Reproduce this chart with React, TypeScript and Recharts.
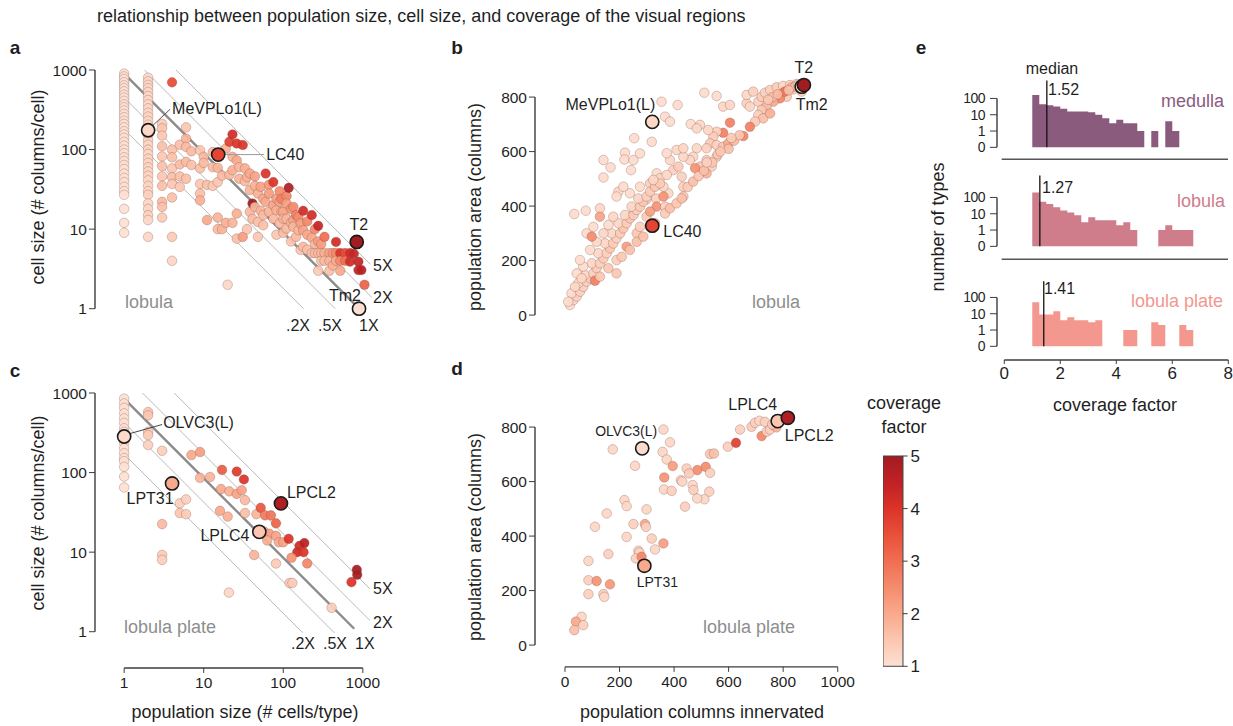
import React from 'react';
import {
  ScatterChart, Scatter, XAxis, YAxis, ReferenceLine,
  AreaChart, Area, BarChart, Bar,
} from 'recharts';

const FONT = "'Liberation Sans', Arial, Helvetica, sans-serif";
const INK = '#1f1f1f';
const AXIS_INK = '#3c3c3c';
const REGION_INK = '#8e8e8e';

// ---------- coverage factor colour scale (1 -> 5) ----------
const coverageStops: [number, string][] = [
  [1, '#fde0d3'], [1.5, '#fcc6b0'], [2, '#f9a98c'], [2.5, '#f58c6e'], [3, '#f06e52'],
  [3.5, '#e9503a'], [4, '#dc3328'], [4.5, '#c02125'], [5, '#a21c21'],
];

function hexRgb(h: string) {
  const n = parseInt(h.slice(1), 16);
  return [(n >> 16) & 255, (n >> 8) & 255, n & 255];
}

function coverageColor(c: number) {
  const v = Math.max(1, Math.min(5, c));
  for (let i = 0; i < coverageStops.length - 1; i++) {
    const [a, ca] = coverageStops[i];
    const [b, cb] = coverageStops[i + 1];
    if (v <= b) {
      const t = (v - a) / (b - a);
      const A = hexRgb(ca);
      const B = hexRgb(cb);
      return `rgb(${A.map((q, k) => Math.round(q + (B[k] - q) * t)).join(',')})`;
    }
  }
  return coverageStops[coverageStops.length - 1][1];
}

// ---------- lobula: population size vs cell size  [cells/type, columns/cell, coverage] ----------
const lobulaCellSize: [number, number, number][] = [
  [1, 900, 1], [1, 830, 1], [1, 770, 1], [1, 700, 1], [1, 640, 1], [1, 590, 1], [1, 540, 1], [1, 490, 1],
  [1, 450, 1], [1, 410, 1], [1, 370, 1], [1, 340, 1], [1, 310, 1], [1, 280, 1], [1, 255, 1], [1, 230, 1],
  [1, 210, 1], [1, 190, 1], [1, 170, 1], [1, 155, 1], [1, 140, 1], [1, 125, 1], [1, 112, 1], [1, 100, 1],
  [1, 90, 1], [1, 80, 1], [1, 72, 1], [1, 64, 1], [1, 57, 1], [1, 50, 1], [1, 44, 1], [1, 39, 1],
  [1, 34, 1], [1, 30, 1], [1, 27, 1], [1, 18, 1], [1, 12, 1], [1, 9, 1],
  [2, 800, 1.15], [2, 720, 1.15], [2, 650, 1.2], [2, 590, 1.15], [2, 530, 1.2], [2, 470, 1.15], [2, 420, 1.2],
  [2, 370, 1.15], [2, 330, 1.2], [2, 290, 1.15], [2, 260, 1.2], [2, 230, 1.2], [2, 205, 1.15], [2, 150, 1.2],
  [2, 130, 1.25], [2, 115, 1.2], [2, 100, 1.25], [2, 88, 1.2], [2, 77, 1.25], [2, 68, 1.2], [2, 60, 1.25],
  [2, 53, 1.2], [2, 47, 1.25], [2, 41, 1.2], [2, 35, 1.25], [2, 30, 1.2], [2, 27, 1.3], [2, 21, 1.2],
  [2, 18, 1.25], [2, 15, 1.3], [2, 13, 1.2], [2, 8, 1.2],
  [3, 210, 1.4], [3, 185, 1.5], [3, 150, 1.5], [3, 110, 1.6], [3, 82, 1.5], [3, 62, 1.6], [3, 46, 1.5],
  [3, 35, 1.6], [3, 22, 1.7], [3, 19, 1.6], [3, 14, 1.4],
  [4, 700, 3.6], [4, 100, 1.6], [4, 80, 1.6], [4, 58, 1.5], [4, 45, 1.6], [4, 37, 1.5], [4, 25, 1.6], [4, 8, 1.4], [4, 4, 1.2],
  [5, 115, 1.6], [5, 65, 1.7], [5, 46, 1.6], [5, 34, 1.5],
  [6, 190, 1.5], [6, 137, 1.8], [6, 108, 1.7], [6, 70, 1.7], [6, 43, 1.6],
  [7, 95, 1.7], [7, 64, 1.6],
  [9, 98, 1.5], [9, 58, 1.6], [9, 37, 1.5], [9, 28, 1.6], [9, 23, 1.9],
  [10, 81, 1.7], [10, 68, 1.7], [11, 36, 1.6], [11, 13, 2.0],
  [13, 93, 1.6], [13, 60, 1.7], [13, 35, 1.5],
  [15, 59, 1.8], [15, 39, 1.5], [15, 14, 1.8], [15, 10, 1.7],
  [17, 47, 1.7], [17, 10, 1.8], [19, 103, 1.9], [19, 12, 1.9], [20, 2, 1.2],
  [21, 125, 3.8], [21, 48, 1.7],
  [23, 155, 4.2], [23, 81, 1.8], [23, 55, 1.9], [23, 12, 1.8],
  [26, 119, 4.0], [26, 73, 2.0], [26, 15.7, 1.9], [26, 7.6, 1.6],
  [28, 60, 1.8], [28, 43, 1.8], [31, 114, 4.0], [31, 8, 2.2],
  [33, 58, 1.9], [33, 40, 1.7], [35, 45, 1.9], [35, 10, 1.5],
  [38, 50, 2.0], [38, 31, 1.8], [38, 16.5, 1.7],
  [41, 21, 5.0], [41, 13.5, 1.7],
  [44, 46, 2.1], [44, 35, 1.9], [44, 19, 1.8],
  [48, 28, 1.9], [48, 12.3, 1.6], [48, 8, 1.5],
  [52, 34, 2.1], [52, 17, 1.8], [56, 24, 2.0], [56, 15, 1.7], [56, 11.2, 1.6],
  [60, 50, 4.0], [60, 22, 2.0], [66, 36, 2.3], [66, 28, 2.2], [66, 16.5, 1.8],
  [75, 39, 4.0], [75, 20, 2.1], [75, 13.5, 1.7],
  [82, 24, 2.2], [82, 17.3, 1.9], [82, 8.5, 1.5],
  [90, 30, 2.5], [90, 22, 2.1], [90, 11.8, 1.7], [95, 24, 2.7], [95, 16.5, 2.0],
  [100, 16.5, 2.0], [100, 13.5, 1.9], [100, 9, 1.6],
  [110, 26, 2.6], [110, 21, 2.2], [110, 13.5, 1.8], [110, 10.2, 1.7],
  [117, 33, 4.8], [125, 18, 2.4], [125, 12, 1.9], [125, 7, 1.5],
  [134, 19, 2.5], [134, 13, 2.1], [134, 10.7, 1.8], [145, 15, 2.7], [145, 8, 1.7],
  [155, 14.2, 2.5], [155, 9.7, 1.8], [165, 11.8, 2.2], [165, 5.5, 1.5],
  [178, 17, 4.2], [178, 9.7, 2.1], [178, 6, 1.7],
  [200, 12.5, 2.6], [200, 8.5, 2.0], [200, 5.5, 1.6],
  [228, 15, 4.2], [228, 7.8, 2.0], [228, 5, 1.6],
  [250, 10, 2.6], [250, 6.5, 1.8], [250, 5, 1.7],
  [275, 11, 4.4], [275, 7, 2.2], [275, 5, 1.7], [275, 3, 1.4],
  [300, 6.5, 2.2], [300, 5, 1.8], [300, 4, 1.6],
  [330, 8, 3.0], [330, 5, 1.9], [330, 4, 1.7],
  [380, 5, 2.1], [380, 4, 1.8], [380, 3, 1.6], [420, 5, 2.3], [420, 3.5, 1.9],
  [460, 6.9, 4.2], [460, 5, 2.6], [460, 4, 2.0],
  [520, 5, 4.0], [520, 4, 2.6], [520, 3, 2.0], [600, 5, 3.6], [600, 4, 3.0],
  [690, 5, 4.2], [690, 3.9, 4.2], [770, 4.9, 4.4], [880, 3.9, 4.4], [880, 3.06, 4.4],
  [960, 3.06, 4.6], [1050, 2, 3.2],
];

// ---------- lobula: columns innervated vs population area  [columns, columns, coverage] ----------
const lobulaArea: [number, number, number][] = [
  [666, 777, 1.3], [678, 765, 1.2], [709, 783, 1.3], [721, 801, 1.4], [733, 816, 1.3], [752, 826, 1.3],
  [776, 836, 1.4], [800, 841, 1.2], [825, 844, 1.3], [849, 848, 1.3], [800, 814, 1.6], [813, 801, 1.4],
  [788, 795, 2.6], [764, 783, 2.0], [739, 765, 1.7], [721, 753, 1.5], [709, 734, 1.3], [727, 722, 1.6],
  [752, 740, 1.9], [697, 710, 1.4], [678, 691, 2.7], [654, 657, 2.6], [666, 808, 1.2], [690, 820, 1.3],
  [837, 828, 1.4], [862, 832, 1.3], [868, 820, 1.3], [806, 820, 2.9], [760, 800, 1.6], [745, 790, 1.5],
  [780, 810, 1.7], [830, 835, 1.9], [845, 840, 1.6], [855, 845, 1.4], [820, 825, 1.6],
  [511, 816, 1.1], [556, 804, 1.1], [580, 765, 1.2], [605, 771, 1.2], [605, 706, 2.7], [580, 669, 2.7],
  [556, 673, 1.3], [544, 655, 1.4], [525, 679, 1.2], [495, 698, 1.2], [461, 701, 1.1], [483, 685, 1.2],
  [532, 630, 1.4], [556, 624, 1.3], [580, 618, 1.5], [599, 630, 2.0], [519, 612, 1.3], [483, 612, 1.2],
  [470, 581, 1.2], [458, 569, 1.2], [495, 545, 1.5], [519, 569, 1.4], [556, 581, 1.3], [538, 545, 1.3],
  [519, 520, 1.8], [477, 539, 2.4], [434, 581, 1.2], [409, 606, 1.2], [434, 612, 1.2], [385, 569, 1.2],
  [373, 594, 1.1], [397, 532, 1.3], [428, 508, 1.3], [434, 471, 1.3], [434, 435, 1.4], [379, 447, 1.2],
  [361, 471, 1.2], [336, 520, 1.1], [348, 502, 1.2], [373, 514, 1.2], [416, 545, 1.4],
  [354, 783, 1.1], [413, 771, 1.1], [367, 728, 1.1], [385, 710, 1.1], [254, 649, 1.1], [318, 636, 1.1],
  [220, 596, 1.1], [141, 569, 1.1], [167, 542, 1.1], [141, 505, 1.1], [242, 532, 1.1], [218, 571, 1.1],
  [251, 569, 1.1], [275, 593, 1.1], [196, 453, 1.2], [189, 435, 1.1], [128, 392, 1.2], [76, 383, 1.1],
  [34, 371, 1.1], [253, 379, 1.2], [299, 425, 1.2], [334, 428, 1.3], [275, 471, 1.1], [238, 447, 1.1],
  [312, 483, 1.3], [336, 398, 2.4], [367, 398, 1.3], [214, 471, 1.1],
  [18, 37, 1.1], [31, 55, 1.2], [43, 68, 1.3], [24, 80, 1.1], [55, 86, 1.3], [67, 104, 1.3], [49, 117, 1.1],
  [79, 123, 1.3], [92, 135, 1.3], [73, 147, 1.2], [104, 153, 1.3], [116, 172, 1.4], [98, 190, 1.2],
  [128, 190, 1.3], [141, 208, 1.4], [122, 227, 1.2], [153, 227, 1.3], [165, 245, 1.5], [147, 263, 1.2],
  [177, 263, 1.4], [189, 282, 1.3], [171, 300, 1.2], [202, 300, 1.4], [214, 318, 1.5], [196, 337, 1.2],
  [226, 337, 1.4], [238, 355, 1.5], [220, 367, 1.2], [251, 367, 1.4], [263, 386, 1.3], [244, 398, 1.2],
  [275, 398, 1.4], [287, 416, 1.5], [269, 428, 1.2], [299, 435, 1.3], [312, 453, 1.4], [330, 471, 1.5],
  [348, 483, 1.4], [324, 496, 1.2], [67, 178, 1.1], [43, 153, 1.1], [55, 202, 1.1], [92, 239, 1.1],
  [116, 269, 1.2], [79, 300, 1.1], [104, 324, 1.1], [141, 300, 1.2], [159, 331, 1.1], [177, 361, 1.2],
  [128, 361, 2.1], [98, 288, 2.5], [110, 126, 2.7], [189, 202, 1.3], [226, 251, 2.2], [263, 300, 1.5],
  [275, 324, 1.3], [299, 361, 1.4], [312, 380, 2.2], [361, 435, 2.4], [37, 104, 1.2], [12, 49, 1.1],
  [61, 135, 1.2], [128, 141, 1.5], [159, 172, 1.5], [208, 214, 1.5], [238, 239, 1.6], [189, 153, 1.5],
  [263, 269, 1.6], [287, 288, 1.6], [330, 337, 1.6], [367, 373, 1.4], [385, 392, 1.6], [409, 410, 1.5],
  [428, 428, 1.6], [450, 470, 1.4], [470, 490, 1.6], [490, 510, 1.5], [510, 530, 1.6], [540, 560, 1.5],
  [560, 590, 1.5], [600, 610, 1.6], [620, 640, 1.7], [640, 660, 1.5], [610, 650, 1.4], [570, 600, 1.5],
  [520, 560, 1.3],
];

// ---------- lobula plate: population size vs cell size ----------
const plateCellSize: [number, number, number][] = [
  [1, 850, 1], [1, 740, 1], [1, 650, 1], [1, 555, 1], [1, 480, 1], [1, 420, 1], [1, 360, 1], [1, 325, 1],
  [1, 236, 1], [1, 202, 1], [1, 175, 1], [1, 152, 1], [1, 139, 1], [1, 118, 1], [1, 89, 1], [1, 65, 1],
  [2, 575, 1.5], [2, 525, 1.5], [2, 325, 1.4], [2, 296, 1.4], [2, 222, 1.3],
  [3, 188, 1.3], [3, 22.5, 1.7], [3, 9.2, 1.4], [3, 8, 1.3],
  [5, 41, 1.3], [6, 46, 1.3], [5, 31, 1.5], [6, 30, 1.4],
  [7, 166, 2.0], [9, 181, 2.2], [9, 86, 1.8], [12, 88, 1.8],
  [17, 108, 3.3], [26, 103, 3.9], [32, 82, 4.0],
  [16.5, 62, 2.0], [21, 58, 1.9], [26, 54, 2.1], [30, 60, 2.1], [33, 45, 1.7],
  [16, 33, 2.0], [20, 28, 1.9], [33, 31, 1.6], [46, 30, 1.8], [52, 36, 3.4], [59, 29, 2.8], [70, 29, 2.9],
  [81, 23, 3.2], [58, 18, 1.9], [67, 17, 2.2], [63, 14, 1.9], [81, 16, 2.1], [88, 13.3, 2.0], [100, 13.3, 2.1],
  [117, 14.7, 4.0], [160, 12, 4.2], [184, 13, 4.6], [150, 10, 4.2], [180, 10, 4.0], [127, 8.5, 2.4],
  [200, 7.2, 2.6], [43, 9.2, 1.8], [81, 7.2, 1.4], [120, 4.1, 1.4], [130, 4.1, 1.4], [405, 2, 1.3],
  [20.7, 3.1, 1.2], [840, 6, 5.0], [850, 5.2, 5.0], [720, 4.2, 4.0],
];

// ---------- lobula plate: columns innervated vs population area ----------
const plateArea: [number, number, number][] = [
  [361, 791, 1.2], [385, 744, 1.2], [175, 718, 1.2], [257, 658, 1.2], [358, 709, 1.2], [373, 681, 1.2],
  [395, 657, 2.2], [364, 615, 2.4], [363, 571, 1.2], [391, 566, 1.3], [425, 605, 1.3], [446, 648, 1.3],
  [468, 587, 1.2], [471, 569, 1.3], [485, 642, 2.5], [516, 654, 2.5], [532, 632, 1.3], [529, 563, 1.3],
  [511, 535, 1.2], [485, 538, 1.2], [440, 508, 1.3], [532, 701, 1.5], [546, 703, 1.6], [597, 728, 1.3],
  [627, 742, 3.8], [642, 791, 1.3], [684, 801, 1.4], [697, 816, 1.3], [713, 823, 1.2], [733, 819, 1.3],
  [721, 767, 2.6], [740, 783, 1.4], [752, 791, 1.3], [218, 532, 1.2], [226, 510, 1.2], [153, 483, 1.2],
  [110, 434, 1.2], [299, 498, 1.2], [251, 444, 1.3], [293, 444, 2.0], [297, 434, 1.3], [226, 397, 1.2],
  [318, 391, 1.3], [361, 373, 2.2], [330, 351, 1.2], [159, 334, 1.3], [269, 346, 1.3], [273, 339, 1.2],
  [260, 318, 1.3], [281, 324, 2.6], [86, 309, 1.2], [86, 238, 1.3], [116, 235, 2.4], [165, 223, 2.3],
  [86, 187, 1.3], [141, 187, 1.3], [144, 177, 1.2], [61, 104, 1.2], [40, 86, 2.0], [67, 73, 1.3],
  [34, 55, 1.6], [766, 806, 1.6], [775, 799, 1.8], [760, 810, 1.4], [430, 600, 1.2], [455, 630, 1.4],
];

// ---------- named cell types ----------
type Named = { n: string; x: number; y: number; c: number };
const lobulaNamedCellSize: Named[] = [
  { n: 'MeVPLo1(L)', x: 2, y: 175, c: 1.2 },
  { n: 'LC40', x: 15.2, y: 86.5, c: 3.7 },
  { n: 'Tm2', x: 896, y: 1.0, c: 1.0 },
  { n: 'T2', x: 838, y: 6.9, c: 5.0 },
];
const lobulaNamedArea: Named[] = [
  { n: 'MeVPLo1(L)', x: 320, y: 709, c: 1.2 },
  { n: 'LC40', x: 320, y: 328, c: 3.7 },
  { n: 'Tm2', x: 868, y: 838, c: 1.0 },
  { n: 'T2', x: 876, y: 844, c: 5.0 },
];
const plateNamedCellSize: Named[] = [
  { n: 'OLVC3(L)', x: 1, y: 284, c: 1.1 },
  { n: 'LPT31', x: 4, y: 73, c: 2.0 },
  { n: 'LPLC4', x: 50, y: 18, c: 1.5 },
  { n: 'LPCL2', x: 93.5, y: 41, c: 4.8 },
];
const plateNamedArea: Named[] = [
  { n: 'OLVC3(L)', x: 283, y: 722, c: 1.1 },
  { n: 'LPT31', x: 291, y: 291, c: 2.0 },
  { n: 'LPLC4', x: 780, y: 822, c: 1.5 },
  { n: 'LPCL2', x: 817, y: 834, c: 4.8 },
];

// ---------- coverage histograms (bins of 0.25 starting at 1.0) ----------
const BIN_START = 1.0;
const BIN_WIDTH = 0.25;
const medullaCounts = [160, 44, 38, 32, 23, 16, 16, 16, 14, 10, 6, 3, 5, 3, 3, 1, 0, 1, 0, 4, 1];
const lobulaCounts = [200, 55, 40, 25, 16, 12, 8, 3, 6, 4, 4, 4, 2, 3, 1, 0, 0, 0, 1, 2, 1, 1, 1];
const plateCounts = [50, 9, 9, 14, 4, 6, 4, 4, 3, 4, 0, 0, 0, 1, 1, 0, 0, 3, 2, 0, 0, 2, 1];
const regionMedians = { medulla: 1.52, lobula: 1.27, plate: 1.41 };
const countTickLabels = ['0', '1', '10', '100'];

// coverage guide lines: multiples of the full column count
const lobulaGuides = [
  { m: 0.2, x0: 1, x1: 180 }, { m: 0.5, x0: 1, x1: 450 }, { m: 1, x0: 1.12, x1: 800 },
  { m: 2, x0: 1.8, x1: 1300 }, { m: 5, x0: 4.5, x1: 1250 },
];
const plateGuides = [
  { m: 0.2, x0: 1, x1: 175 }, { m: 0.5, x0: 1, x1: 440 }, { m: 1, x0: 1.08, x1: 780 },
  { m: 2, x0: 1.7, x1: 1230 }, { m: 5, x0: 4.25, x1: 1230 },
];
const LOBULA_COLUMNS = 900;
const PLATE_COLUMNS = 850;

type Frame = { x: number; y: number; w: number; h: number };
type LabelStyle = {
  dx: number; dy: number; anchor: 'start' | 'middle' | 'end'; size?: number;
  leader?: [number, number, number, number]; leaderColor?: string;
};

const toPts = (rows: [number, number, number][]) => rows.map(([x, y, c]) => ({ x, y, c }));

const dotShape = (props: any) => {
  const { cx, cy, payload } = props;
  if (cx == null || cy == null) return <g />;
  return (
    <circle cx={cx} cy={cy} r={4.8} fill={coverageColor(payload.c)} fillOpacity={0.93}
      stroke="rgba(120,75,65,0.42)" strokeWidth={0.7} />
  );
};

const namedShape = (styles: Record<string, LabelStyle>) => (props: any) => {
  const { cx, cy, payload } = props;
  if (cx == null || cy == null) return <g />;
  const s = styles[payload.n];
  return (
    <g>
      {s.leader && (
        <line x1={cx + s.leader[0]} y1={cy + s.leader[1]} x2={cx + s.leader[2]} y2={cy + s.leader[3]}
          stroke={s.leaderColor || '#555'} strokeWidth={1} />
      )}
      <circle cx={cx} cy={cy} r={6.6} fill={coverageColor(payload.c)} stroke="#1a1a1a" strokeWidth={1.6} />
      <text x={cx + s.dx} y={cy + s.dy} textAnchor={s.anchor} dominantBaseline="central"
        fontSize={s.size || 16} fill={INK}>{payload.n}</text>
    </g>
  );
};

const noShape = () => <g />;

type PanelProps = {
  frame: Frame; log: boolean; xDomain: [number, number]; yDomain: [number, number];
  xTicks: number[]; yTicks: number[]; xSpan: [number, number]; ySpan: [number, number];
  showX: boolean; points: { x: number; y: number; c: number }[]; named: Named[];
  styles: Record<string, LabelStyle>; guides?: { m: number; x0: number; x1: number }[]; columns?: number;
};

function CoveragePanel(p: PanelProps) {
  const yW = 60, xH = p.showX ? 40 : 0, mt = 40, mr = 45, mb = 6;
  const f = p.frame;
  const width = f.w + yW + mr;
  const height = f.h + xH + mt + mb;
  const scale = p.log ? 'log' : 'linear';
  return (
    <div style={{ position: 'absolute', left: f.x - yW, top: f.y - mt, width, height }}>
      <ScatterChart width={width} height={height} margin={{ top: mt, right: mr, bottom: mb, left: 0 }}>
        <XAxis type="number" dataKey="x" scale={scale} domain={p.xDomain} ticks={p.xTicks} interval={0}
          hide={!p.showX} height={xH} axisLine={false} tickLine={{ stroke: AXIS_INK }} tickSize={5}
          tickMargin={4} tick={{ fontSize: 15.5, fill: INK }} />
        <YAxis type="number" dataKey="y" scale={scale} domain={p.yDomain} ticks={p.yTicks} interval={0}
          width={yW} axisLine={false} tickLine={{ stroke: AXIS_INK }} tickSize={6} tickMargin={2}
          tick={{ fontSize: 15.5, fill: INK }} />
        {(p.guides || []).map((g, i) => (
          <Scatter key={`g${i}`} isAnimationActive={false} shape={noShape}
            data={[{ x: g.x0, y: (g.m * (p.columns || 1)) / g.x0 }, { x: g.x1, y: (g.m * (p.columns || 1)) / g.x1 }]}
            line={{ stroke: g.m === 1 ? '#8c8c8c' : '#b9b9b9', strokeWidth: g.m === 1 ? 2.4 : 1 }} />
        ))}
        <Scatter data={p.points} shape={dotShape} isAnimationActive={false} />
        <Scatter data={p.named} shape={namedShape(p.styles)} isAnimationActive={false} />
        <ReferenceLine ifOverflow="visible" stroke={AXIS_INK} strokeWidth={1.4}
          segment={[{ x: p.xDomain[0], y: p.ySpan[0] }, { x: p.xDomain[0], y: p.ySpan[1] }]} />
        {p.showX && (
          <ReferenceLine ifOverflow="visible" stroke={AXIS_INK} strokeWidth={1.4}
            segment={[{ x: p.xSpan[0], y: p.yDomain[0] }, { x: p.xSpan[1], y: p.yDomain[0] }]} />
        )}
      </ScatterChart>
    </div>
  );
}

const toLevel = (n: number) => (n >= 1 ? 1 + Math.log10(n) : 0);

function Histogram(p: {
  frame: Frame; counts: number[]; color: string; median: number; medianTop: number;
  yDomain: [number, number]; showX: boolean;
}) {
  const yW = 44, xH = p.showX ? 32 : 0, mt = 4, mr = 4, mb = p.showX ? 4 : 10;
  const f = p.frame;
  const width = f.w + yW + mr;
  const height = f.h + xH + mt + mb;
  const data = [
    ...p.counts.map((n, i) => ({ x: BIN_START + i * BIN_WIDTH, v: toLevel(n) })),
    { x: BIN_START + p.counts.length * BIN_WIDTH, v: 0 },
  ];
  const xDomain: [number, number] = [-0.26, 8.05];
  return (
    <div style={{ position: 'absolute', left: f.x - yW, top: f.y - mt, width, height }}>
      <AreaChart width={width} height={height} data={data} margin={{ top: mt, right: mr, bottom: mb, left: 0 }}>
        <XAxis type="number" dataKey="x" domain={xDomain} ticks={[0, 2, 4, 6, 8]} interval={0}
          hide={!p.showX} height={xH} axisLine={false} tickLine={{ stroke: AXIS_INK }} tickSize={4}
          tickMargin={3} tick={{ fontSize: 17, fill: INK }} />
        <YAxis type="number" domain={p.yDomain} ticks={[0, 1, 2, 3]} interval={0} width={yW}
          tickFormatter={(v: number) => countTickLabels[v]} axisLine={false}
          tickLine={{ stroke: AXIS_INK }} tickSize={7} tickMargin={5}
          tick={{ fontSize: 14, fill: INK, letterSpacing: -0.5 }} />
        <Area type="stepAfter" dataKey="v" stroke="none" fill={p.color} fillOpacity={1}
          isAnimationActive={false} dot={false} activeDot={false} />
        <ReferenceLine ifOverflow="visible" stroke="#111" strokeWidth={1.3}
          segment={[{ x: p.median, y: 0 }, { x: p.median, y: p.medianTop }]} />
        <ReferenceLine ifOverflow="visible" stroke={AXIS_INK} strokeWidth={1.4}
          segment={[{ x: xDomain[0], y: 0 }, { x: xDomain[0], y: 3 }]} />
        {p.showX && (
          <ReferenceLine ifOverflow="visible" stroke={AXIS_INK} strokeWidth={1.4}
            segment={[{ x: 0, y: p.yDomain[0] }, { x: 8, y: p.yDomain[0] }]} />
        )}
      </AreaChart>
    </div>
  );
}

const coverageRange = [{ k: 'coverage', span: [1, 5] }];

function ColorBar() {
  const f: Frame = { x: 882.7, y: 455.7, w: 19.6, h: 210.3 };
  const yW = 30, mt = 12, mb = 12, mr = 4;
  const width = f.w + yW + mr;
  const height = f.h + mt + mb;
  return (
    <div style={{ position: 'absolute', left: f.x, top: f.y - mt, width, height }}>
      <BarChart width={width} height={height} data={coverageRange} barCategoryGap={0}
        margin={{ top: mt, right: mr, bottom: mb, left: 0 }}>
        <defs>
          <linearGradient id="coverageGrad" x1="0" y1="1" x2="0" y2="0">
            {coverageStops.map(([v, col]) => (
              <stop key={v} offset={(v - 1) / 4} stopColor={col} />
            ))}
          </linearGradient>
        </defs>
        <XAxis dataKey="k" type="category" hide />
        <YAxis orientation="right" type="number" domain={[1, 5]} ticks={[1, 2, 3, 4, 5]} interval={0}
          width={yW} axisLine={false} tickLine={{ stroke: AXIS_INK }} tickSize={5} tickMargin={3}
          tick={{ fontSize: 17, fill: INK }} />
        <Bar dataKey="span" fill="url(#coverageGrad)" stroke="#444" strokeWidth={1} isAnimationActive={false} />
      </BarChart>
    </div>
  );
}

const labelsA: Record<string, LabelStyle> = {
  'MeVPLo1(L)': { dx: 24, dy: -22, anchor: 'start', leader: [5, -5, 22, -21] },
  LC40: { dx: 48, dy: 0, anchor: 'start', leader: [7, 0, 46, 0], leaderColor: '#999' },
  T2: { dx: 2, dy: -17, anchor: 'middle' },
  Tm2: { dx: -14, dy: -13, anchor: 'middle' },
};
const labelsB: Record<string, LabelStyle> = {
  'MeVPLo1(L)': { dx: 3, dy: -17, anchor: 'end' },
  LC40: { dx: 11, dy: 6, anchor: 'start' },
  T2: { dx: 0, dy: -18, anchor: 'middle' },
  Tm2: { dx: 10, dy: 18, anchor: 'middle' },
};
const labelsC: Record<string, LabelStyle> = {
  'OLVC3(L)': { dx: 39, dy: -14, anchor: 'start', leader: [6, -3, 38, -12], leaderColor: '#444' },
  LPT31: { dx: -22, dy: 15, anchor: 'middle' },
  LPLC4: { dx: -10, dy: 4, anchor: 'end' },
  LPCL2: { dx: 6, dy: -11, anchor: 'start' },
};
const labelsD: Record<string, LabelStyle> = {
  'OLVC3(L)': { dx: -16, dy: -17, anchor: 'middle', size: 14 },
  LPT31: { dx: 13, dy: 16, anchor: 'middle', size: 14 },
  LPLC4: { dx: -25, dy: -17, anchor: 'middle' },
  LPCL2: { dx: -3, dy: 18, anchor: 'start' },
};

const MEDULLA_COLOR = '#8b5b7e';
const LOBULA_COLOR = '#cf7c8b';
const PLATE_COLOR = '#f3978f';

function Txt(props: {
  x: number; y: number; s: number; children: React.ReactNode; anchor?: 'start' | 'middle' | 'end';
  fill?: string; bold?: boolean; rotate?: boolean;
}) {
  const { x, y, s, anchor = 'start', fill = INK, bold, rotate } = props;
  return (
    <text x={rotate ? 0 : x} y={rotate ? 0 : y} transform={rotate ? `translate(${x},${y}) rotate(-90)` : undefined}
      fontSize={s} fill={fill} textAnchor={anchor} dominantBaseline="central" fontWeight={bold ? 700 : 400}>
      {props.children}
    </text>
  );
}

export default function App() {
  const logX: [number, number] = [0.43, 3162];
  const logY: [number, number] = [0.35, 1000];
  const linX: [number, number] = [-110, 1030];
  const linY: [number, number] = [-80, 870];
  return (
    <div style={{
      position: 'absolute', left: 0, top: 0, width: 1233, height: 726, background: '#fff',
      fontFamily: FONT, overflow: 'hidden',
    }}>
      <CoveragePanel frame={{ x: 95, y: 70, w: 307.6, h: 275 }} log xDomain={logX} yDomain={logY}
        xTicks={[1, 10, 100, 1000]} yTicks={[1, 10, 100, 1000]} xSpan={[1, 1000]} ySpan={[1, 1000]}
        showX={false} points={toPts(lobulaCellSize)} named={lobulaNamedCellSize} styles={labelsA}
        guides={lobulaGuides} columns={LOBULA_COLUMNS} />
      <CoveragePanel frame={{ x: 95, y: 393.3, w: 307.6, h: 275 }} log xDomain={logX} yDomain={logY}
        xTicks={[1, 10, 100, 1000]} yTicks={[1, 10, 100, 1000]} xSpan={[1, 1000]} ySpan={[1, 1000]}
        showX points={toPts(plateCellSize)} named={plateNamedCellSize} styles={labelsC}
        guides={plateGuides} columns={PLATE_COLUMNS} />
      <CoveragePanel frame={{ x: 535, y: 77.9, w: 310.9, h: 258.9 }} log={false} xDomain={linX} yDomain={linY}
        xTicks={[0, 200, 400, 600, 800, 1000]} yTicks={[0, 200, 400, 600, 800]} xSpan={[0, 1000]} ySpan={[0, 800]}
        showX={false} points={toPts(lobulaArea)} named={lobulaNamedArea} styles={labelsB} />
      <CoveragePanel frame={{ x: 535, y: 407.9, w: 310.9, h: 258.9 }} log={false} xDomain={linX} yDomain={linY}
        xTicks={[0, 200, 400, 600, 800, 1000]} yTicks={[0, 200, 400, 600, 800]} xSpan={[0, 1000]} ySpan={[0, 800]}
        showX points={toPts(plateArea)} named={plateNamedArea} styles={labelsD} />

      <Histogram frame={{ x: 996.7, y: 73.65, w: 232.7, h: 73.35 }} counts={medullaCounts} color={MEDULLA_COLOR}
        median={regionMedians.medulla} medianTop={4.1} yDomain={[0, 4.5]} showX={false} />
      <Histogram frame={{ x: 996.7, y: 173.35, w: 232.7, h: 73.35 }} counts={lobulaCounts} color={LOBULA_COLOR}
        median={regionMedians.lobula} medianTop={4.35} yDomain={[0, 4.5]} showX={false} />
      <Histogram frame={{ x: 996.7, y: 272.95, w: 232.7, h: 87.0 }} counts={plateCounts} color={PLATE_COLOR}
        median={regionMedians.plate} medianTop={4.0} yDomain={[-0.84, 4.5]} showX />

      <ColorBar />

      <svg width={1233} height={726} style={{ position: 'absolute', left: 0, top: 0, pointerEvents: 'none' }}>
        <Txt x={97} y={16} s={18}>relationship between population size, cell size, and coverage of the visual regions</Txt>
        <Txt x={15} y={47} s={19} anchor="middle" bold>a</Txt>
        <Txt x={457} y={47} s={19} anchor="middle" bold>b</Txt>
        <Txt x={15} y={370} s={19} anchor="middle" bold>c</Txt>
        <Txt x={457} y={368} s={19} anchor="middle" bold>d</Txt>
        <Txt x={921} y={47} s={19} anchor="middle" bold>e</Txt>

        <Txt x={38} y={187} s={18} anchor="middle" rotate>cell size (# columns/cell)</Txt>
        <Txt x={38} y={513} s={18} anchor="middle" rotate>cell size (# columns/cell)</Txt>
        <Txt x={475} y={207} s={18} anchor="middle" rotate>population area (columns)</Txt>
        <Txt x={475} y={537} s={18} anchor="middle" rotate>population area (columns)</Txt>
        <Txt x={938} y={227} s={18} anchor="middle" rotate>number of types</Txt>
        <Txt x={245} y={712} s={18} anchor="middle">population size (# cells/type)</Txt>
        <Txt x={702} y={712} s={18} anchor="middle">population columns innervated</Txt>
        <Txt x={1115} y={405} s={18} anchor="middle">coverage factor</Txt>

        <Txt x={125} y={302} s={18} fill={REGION_INK}>lobula</Txt>
        <Txt x={752} y={302} s={18} fill={REGION_INK}>lobula</Txt>
        <Txt x={124} y={627} s={18} fill={REGION_INK}>lobula plate</Txt>
        <Txt x={703} y={627} s={18} fill={REGION_INK}>lobula plate</Txt>

        <Txt x={373} y={265} s={16}>5X</Txt>
        <Txt x={373} y={297} s={16}>2X</Txt>
        <Txt x={359} y={325} s={16}>1X</Txt>
        <Txt x={318} y={325} s={16}>.5X</Txt>
        <Txt x={286} y={325} s={16}>.2X</Txt>
        <Txt x={373} y={588} s={16}>5X</Txt>
        <Txt x={373} y={622} s={16}>2X</Txt>
        <Txt x={355} y={643} s={16}>1X</Txt>
        <Txt x={323} y={643} s={16}>.5X</Txt>
        <Txt x={291} y={643} s={16}>.2X</Txt>

        <Txt x={904} y={403} s={18} anchor="middle">coverage</Txt>
        <Txt x={904} y={427} s={18} anchor="middle">factor</Txt>

        <Txt x={1052} y={68} s={16} anchor="middle">median</Txt>
        <Txt x={1048} y={89} s={16}>{String(regionMedians.medulla)}</Txt>
        <Txt x={1042} y={187} s={16}>{String(regionMedians.lobula)}</Txt>
        <Txt x={1044} y={288} s={16}>{String(regionMedians.plate)}</Txt>
        <Txt x={1224} y={101} s={18} anchor="end" fill={MEDULLA_COLOR}>medulla</Txt>
        <Txt x={1225} y={201} s={18} anchor="end" fill={LOBULA_COLOR}>lobula</Txt>
        <Txt x={1223} y={301} s={18} anchor="end" fill={PLATE_COLOR}>lobula plate</Txt>
        <line x1={1001.7} y1={159.3} x2={1228} y2={159.3} stroke="#555" strokeWidth={1.6} />
        <line x1={1001.7} y1={259.3} x2={1228} y2={259.3} stroke="#555" strokeWidth={1.6} />
      </svg>
    </div>
  );
}
